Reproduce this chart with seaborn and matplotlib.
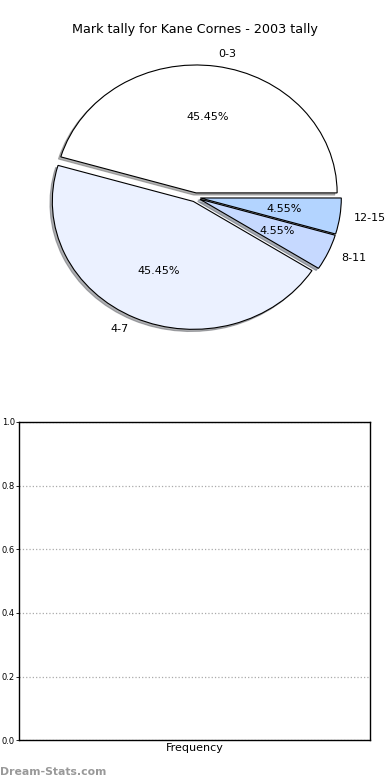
import seaborn as sns
from matplotlib import pyplot as plt

sns.set_theme(style='white')
plt.rcParams['font.family'] = ['DejaVu Sans']
plt.rcParams['text.color'] = 'black'
plt.rcParams['ytick.color'] = 'black'
plt.rcParams['axes.labelcolor'] = 'black'

labels = ['0-3', '4-7', '8-11', '12-15']
counts = [10, 10, 1, 1]
colours = ['#ffffff', '#ebf1ff', '#c6d9ff', '#b3d4ff']
explode = [0.035, 0.035, 0.035, 0.035]
yticks = [0.0, 0.2, 0.4, 0.6, 0.8, 1.0]

fig = plt.figure(figsize=(3.9, 7.8), dpi=100)

# pie on top
ax1 = fig.add_axes([0.049, 0.542, 0.904, 0.410])
wedges, texts, autotexts = ax1.pie(counts, labels=labels, colors=colours, explode=explode,
                                   autopct='%.2f%%', startangle=0,
                                   shadow={'ox': -0.012, 'oy': -0.012, 'shade': 0.6},
                                   wedgeprops={'edgecolor': 'black', 'linewidth': 0.8},
                                   textprops={'fontsize': 8})
ax1.set_aspect('auto')
ax1.set_xlim(-1.25, 1.25)
ax1.set_ylim(-1.25, 1.25)
ax1.set_title('Mark tally for Kane Cornes - 2003 tally', fontsize=9.2, pad=3)

# empty frequency axes below
ax2 = fig.add_axes([0.049, 0.051, 0.9, 0.408])
ax2.set_ylim(0, 1)
ax2.set_xlim(0, 1)
ax2.set_yticks(yticks)
ax2.set_yticklabels(['%.1f' % t for t in yticks], fontsize=6)
ax2.set_xticks([])
ax2.tick_params(axis='y', direction='out', length=2, width=0.6, pad=1, left=True)
ax2.yaxis.grid(True, linestyle=':', color='#aaaaaa', linewidth=0.9)
for sp in ax2.spines.values():
    sp.set_color('black')
    sp.set_linewidth(1)
ax2.set_xlabel('Frequency', fontsize=8, labelpad=2)

fig.text(0.0, 0.007, 'Dream-Stats.com', fontsize=7.8, color='#999999', fontweight='bold')

fig.savefig('out.png', dpi=100)
